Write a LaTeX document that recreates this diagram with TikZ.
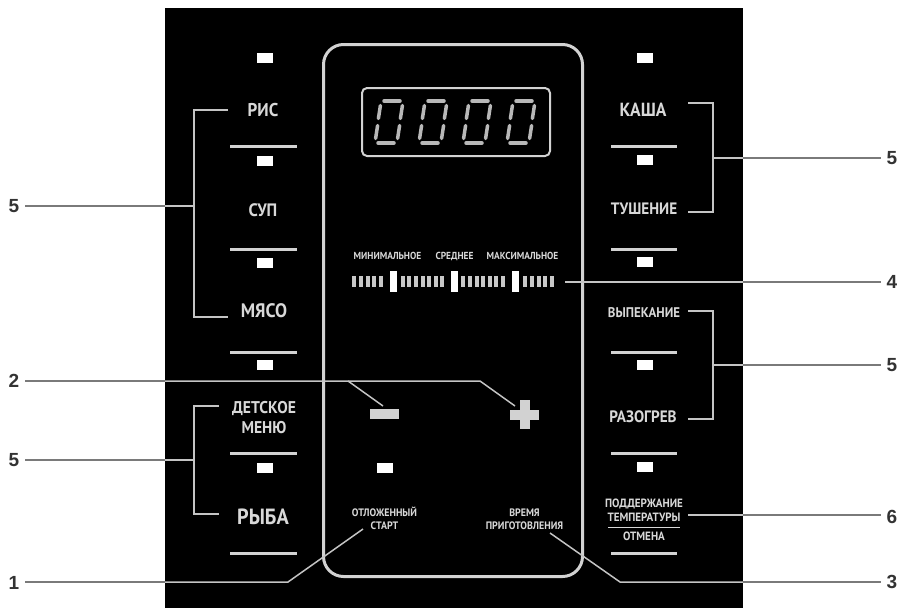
\documentclass[tikz,border=0pt]{standalone}
\usepackage{fontspec}
\newfontfamily\pf{PT Sans}[FakeStretch=0.92]
\newfontfamily\nf{Liberation Sans}
\definecolor{txtgray}{HTML}{D8D8D8}
\definecolor{sepgray}{HTML}{D2D2D2}
\definecolor{brkgray}{HTML}{C4C4C4}
\definecolor{outgray}{HTML}{7A7A7A}
\definecolor{numgray}{HTML}{333333}
\definecolor{seggray}{HTML}{B8B8B8}
\definecolor{tickgray}{HTML}{C8C8C8}
\tikzset{
  led/.style={fill=white, minimum width=16pt, minimum height=10pt, inner sep=0pt},
  sepline/.style={draw=sepgray, line width=3pt},
  lbl/.style={text=txtgray, inner sep=0pt, align=center},
  num/.style={text=numgray, inner sep=6pt, font=\nf\bfseries\fontsize{19}{19}\selectfont},
  brk/.style={draw=brkgray, line width=1.5pt},
  lead/.style={draw=brkgray, line width=1.5pt},
  leadout/.style={draw=outgray, line width=1.8pt},
  seg/.style={draw=seggray, line width=3.5pt, line cap=round},
  tick/.style={fill=tickgray},
  bigtick/.style={fill=white},
}
\newcommand\fs[2]{\pf\bfseries\fontsize{#1}{#2}\selectfont}
\begin{document}
\begin{tikzpicture}[x=1pt,y=-1pt]
\useasboundingbox (0,0) rectangle (901,608);
\fill[white] (0,0) rectangle (901,608);
\fill[black] (165,8) rectangle (743,608);
% central frame
\draw[draw=sepgray, line width=3pt, rounded corners=20pt] (323.5,44.5) rectangle (582.5,576.5);
% display
\draw[draw=sepgray, line width=2pt, rounded corners=5pt] (362,88) rectangle (550,156);
\foreach \x in {375,419,463,507} {
  \draw[seg] ({\x+9},101) -- ({\x+25},101);
  \draw[seg] ({\x+5.4},105.5) -- ({\x+3.4},118.5);
  \draw[seg] ({\x+27.4},105.5) -- ({\x+25.4},118.5);
  \draw[seg] ({\x+2.6},125.5) -- ({\x+0.6},138.5);
  \draw[seg] ({\x+24.6},125.5) -- ({\x+22.6},138.5);
  \draw[seg] ({\x+3},143) -- ({\x+19},143);
}
% intensity scale
\node[lbl, font=\fs{10.2}{10}] (tmin) at (387.5,256) {МИНИМАЛЬНОЕ};
\node[lbl, font=\fs{10.2}{10}] (tmid) at (454.5,256) {СРЕДНЕЕ};
\node[lbl, font=\fs{10.2}{10}] (tmax) at (522.5,256) {МАКСИМАЛЬНОЕ};
\foreach \i in {0,...,4} \fill[tick] ({352.3+6.6*\i},276) rectangle ++(4,11);
\foreach \i in {0,...,6} \fill[tick] ({400.7+6.6*\i},276) rectangle ++(4,11);
\foreach \i in {0,...,6} \fill[tick] ({461.3+6.6*\i},276) rectangle ++(4,11);
\foreach \i in {0,...,4} \fill[tick] ({523.3+6.6*\i},276) rectangle ++(4,11);
\fill[bigtick] (390,271) rectangle ++(7,21);
\fill[bigtick] (451,271) rectangle ++(7,21);
\fill[bigtick] (512,271) rectangle ++(7,21);
\coordinate (bar) at (565,282);
% minus / plus
\node[fill=sepgray, minimum width=29pt, minimum height=10pt, inner sep=0pt] (minus) at (384.5,414) {};
\fill[sepgray] (510,409.5) rectangle (539,419.5);
\fill[sepgray] (519.5,400) rectangle (529.5,429);
\coordinate (plus) at (524.5,414.5);
\node[led] (ledd) at (384.5,468) {};
\node[lbl, font=\fs{10.8}{13}] (otl) at (384.5,518.5) {ОТЛОЖЕННЫЙ\\СТАРТ};
\node[lbl, font=\fs{10.8}{13}] (vrem) at (524.5,519) {ВРЕМЯ\\ПРИГОТОВЛЕНИЯ};
% left column
\node[led] (ll1) at (265,58) {};
\node[lbl, font=\fs{18.5}{18}] (ris) at (263,110) {РИС};
\draw[sepline] (230,146) -- (297,146);
\node[led] (ll2) at (265,160.5) {};
\node[lbl, font=\fs{18}{18}] (sup) at (263,210) {СУП};
\draw[sepline] (230,249) -- (297,249);
\node[led] (ll3) at (265,263) {};
\node[lbl, font=\fs{19.5}{18}] (myaso) at (264,311) {МЯСО};
\draw[sepline] (230,352) -- (297,352);
\node[led] (ll4) at (265,365) {};
\node[lbl, font=\fs{17}{20}] (detm) at (264,418) {ДЕТСКОЕ\\МЕНЮ};
\draw[sepline] (230,453) -- (297,453);
\node[led] (ll5) at (265,468) {};
\node[lbl, font=\fs{22}{23}] (ryba) at (263,517) {РЫБА};
\draw[sepline] (230,553) -- (297,553);
% right column
\node[led] (rl1) at (645,57.5) {};
\node[lbl, font=\fs{19}{18}] (kasha) at (643,110) {КАША};
\draw[sepline] (611,146) -- (677,146);
\node[led] (rl2) at (645,160) {};
\node[lbl, font=\fs{16.5}{16}] (tush) at (644,209) {ТУШЕНИЕ};
\draw[sepline] (611,249) -- (677,249);
\node[led] (rl3) at (645,262) {};
\node[lbl, font=\fs{14}{14}] (vyp) at (644,313) {ВЫПЕКАНИЕ};
\draw[sepline] (611,352) -- (677,352);
\node[led] (rl4) at (645,365) {};
\node[lbl, font=\fs{16.5}{18}] (razo) at (643,417) {РАЗОГРЕВ};
\draw[sepline] (611,453) -- (677,453);
\node[led] (rl5) at (645,467) {};
\node[lbl, font=\fs{12}{13.5}] (podd) at (644,510.5) {ПОДДЕРЖАНИЕ\\ТЕМПЕРАТУРЫ};
\draw[draw=txtgray, line width=1pt] (608,527) -- (680,527);
\node[lbl, font=\fs{12}{13}] (otm) at (644,536) {ОТМЕНА};
\draw[sepline] (611,553) -- (677,553);
% brackets
\draw[brk] (228,110) -- (194,110) -- (194,317) -- (228,317);
\draw[brk] (219,406) -- (194,406) -- (194,514) -- (219,514);
\draw[brk] (688,103) -- (713,103) -- (713,212) -- (688,212);
\draw[brk] (688,311) -- (713,311) -- (713,419) -- (688,419);
\coordinate (bl1) at (194,206);
\coordinate (bl2) at (194,460);
\coordinate (br1) at (713,158);
\coordinate (br2) at (713,365);
% label numbers
\node[num] (n5a) at (14,206) {5};
\node[num] (n2) at (14,381) {2};
\node[num] (n5b) at (14,460) {5};
\node[num] (n1) at (14,583) {1};
\node[num] (n5c) at (892,158) {5};
\node[num] (n4) at (892,282) {4};
\node[num] (n5d) at (892,365) {5};
\node[num] (n6) at (892,517) {6};
\node[num] (n3) at (892,582) {3};
% leaders left
\coordinate (e5a) at (165,206);
\coordinate (e2) at (165,381);
\coordinate (e5b) at (165,460);
\coordinate (e1) at (165,582);
\draw[leadout] (n5a.east |- e5a) -- (e5a);
\draw[lead] (e5a) -- (bl1);
\draw[leadout] (n2.east |- e2) -- (e2);
\coordinate (k2) at (348,381);
\coordinate (k2b) at (480,381);
\coordinate (mtip) at (383,406);
\coordinate (ptip) at (515,406);
\draw[lead] (e2) -- (k2) -- (k2b) -- (ptip);
\draw[lead] (k2) -- (mtip);
\draw[leadout] (n5b.east |- e5b) -- (e5b);
\draw[lead] (e5b) -- (bl2);
\coordinate (k1) at (288,582);
\coordinate (t1) at (363,529);
\draw[leadout] (n1.east |- e1) -- (e1);
\draw[lead] (e1) -- (k1) -- (t1);
% leaders right
\coordinate (f5c) at (743,158);
\coordinate (f4) at (743,282);
\coordinate (f5d) at (743,365);
\coordinate (f6) at (743,515);
\coordinate (f3) at (743,582);
\draw[lead] (br1) -- (f5c);
\draw[leadout] (f5c) -- (n5c.west |- f5c);
\draw[lead] (bar) -- (f4);
\draw[leadout] (f4) -- (n4.west |- f4);
\draw[lead] (br2) -- (f5d);
\draw[leadout] (f5d) -- (n5d.west |- f5d);
\coordinate (t6) at (688,515);
\draw[lead] (t6) -- (f6);
\draw[leadout] (f6) -- (n6.west |- f6);
\coordinate (t3) at (550,533);
\coordinate (k3) at (620,582);
\draw[lead] (t3) -- (k3) -- (f3);
\draw[leadout] (f3) -- (n3.west |- f3);
\end{tikzpicture}
\end{document}
